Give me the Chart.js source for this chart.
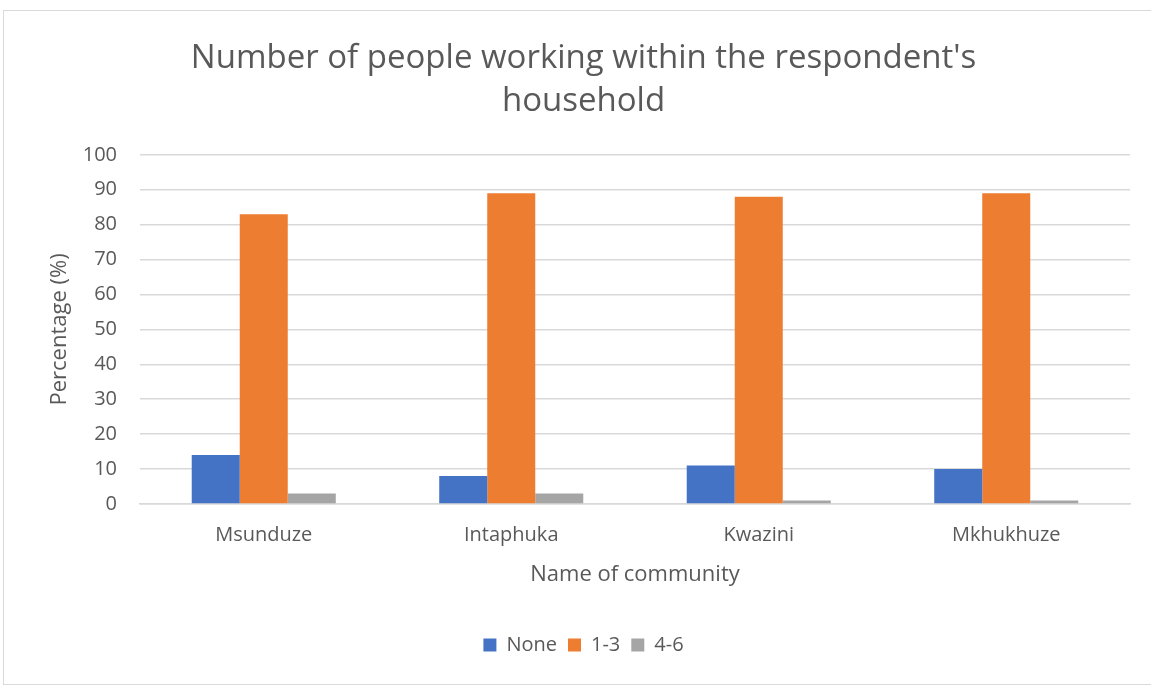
<!DOCTYPE html>
<html>
<head>
<meta charset="utf-8">
<script src="https://cdn.jsdelivr.net/npm/chart.js@4/dist/chart.umd.min.js"></script>
<style>
    body { margin: 0; background: #ffffff; }
    #wrap {
        position: absolute;
        left: 3px;
        top: 10px;
        width: 1160px;
        height: 675px;
        border: 1px solid #d9d9d9;
        box-sizing: border-box;
    }
    #workChart { display: block; }
</style>
</head>
<body>
<div id="wrap">
    <canvas id="workChart" width="1158" height="673"></canvas>
</div>
<script>
const communities = ['Msunduze', 'Intaphuka', 'Kwazini', 'Mkhukhuze'];
const noneWorking = [14, 8, 11, 10];
const oneToThree = [83, 89, 88, 89];
const fourToSix = [3, 3, 1, 1];
const yTicks = [0, 10, 20, 30, 40, 50, 60, 70, 80, 90, 100];

const textColor = '#595959';
const gridColor = '#d9d9d9';
const baseFont = "'Open Sans', 'Liberation Sans', sans-serif";

document.addEventListener('DOMContentLoaded', function() {
    const ctx = document.getElementById('workChart');

    new Chart(ctx, {
        type: 'bar',
        data: {
            labels: communities,
            datasets: [
                { label: 'None', data: noneWorking, backgroundColor: '#4472c4' },
                { label: '1-3', data: oneToThree, backgroundColor: '#ed7d31' },
                { label: '4-6', data: fourToSix, backgroundColor: '#a5a5a5' }
            ]
        },
        options: {
            responsive: false,
            animation: false,
            layout: {
                padding: { left: 33, right: 32, top: 26, bottom: 19 }
            },
            datasets: {
                bar: {
                    categoryPercentage: 0.582,
                    barPercentage: 1.0
                }
            },
            plugins: {
                title: {
                    display: true,
                    text: ["Number of people working within the respondent's", 'household'],
                    color: textColor,
                    font: { family: baseFont, size: 33, weight: 'normal', lineHeight: 1.3 },
                    padding: { top: 0, bottom: 32 }
                },
                legend: {
                    position: 'bottom',
                    labels: {
                        color: textColor,
                        font: { family: baseFont, size: 20 },
                        boxWidth: 13,
                        boxHeight: 13,
                        padding: 11
                    }
                },
                tooltip: { enabled: false }
            },
            scales: {
                x: {
                    grid: { display: false, drawTicks: false },
                    border: { display: true, color: gridColor, width: 1.5 },
                    ticks: {
                        color: textColor,
                        font: { family: baseFont, size: 20 },
                        padding: 19
                    },
                    title: {
                        display: true,
                        text: 'Name of community',
                        color: textColor,
                        font: { family: baseFont, size: 22 },
                        padding: { top: 0, bottom: 36 }
                    },
                    afterFit: function(axis) {
                        axis.height = 120;
                    }
                },
                y: {
                    min: 0,
                    max: 100,
                    afterBuildTicks: function(axis) {
                        axis.ticks = yTicks.map(v => ({ value: v }));
                    },
                    grid: { color: gridColor, lineWidth: 1.5, drawTicks: false },
                    border: { display: false },
                    ticks: {
                        color: textColor,
                        font: { family: baseFont, size: 20 },
                        padding: 23
                    },
                    title: {
                        display: true,
                        text: 'Percentage (%)',
                        color: textColor,
                        font: { family: baseFont, size: 22 },
                        padding: { top: 10, bottom: 0 }
                    },
                    afterFit: function(axis) {
                        axis.width = 103;
                    }
                }
            }
        }
    });
});
</script>
</body>
</html>
